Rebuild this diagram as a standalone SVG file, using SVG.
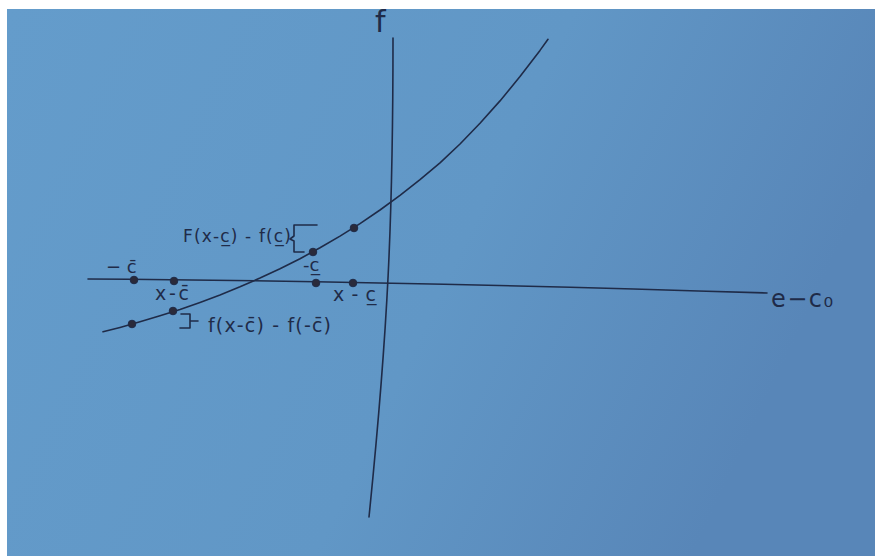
<svg xmlns="http://www.w3.org/2000/svg" width="875" height="556" viewBox="0 0 875 556">
  <defs>
    <linearGradient id="paper" x1="0" y1="0" x2="1" y2="0.3">
      <stop offset="0" stop-color="#649ccb"/>
      <stop offset="0.6" stop-color="#6197c6"/>
      <stop offset="1" stop-color="#5886b8"/>
    </linearGradient>
    <style>
      .ink { fill: none; stroke: #1f2b48; stroke-width: 1.6; stroke-linecap: round; stroke-linejoin: round; }
      .dot { fill: #2a2a3a; stroke: #1f2b48; stroke-width: 1; }
      .lbl { font-family: "DejaVu Sans", "Liberation Sans", sans-serif; fill: #1f2b48; }
    </style>
  </defs>

  <rect x="0" y="0" width="875" height="556" fill="#ffffff"/>
  <rect x="7" y="9" width="868" height="547" fill="url(#paper)"/>

  <g id="axes">
    <path class="ink" d="M88,279 Q390,281 767,293"/>
    <path class="ink" d="M393,38 C393,220 388,330 369,517"/>
    <text class="lbl" x="375" y="32" font-size="30">f</text>
    <text class="lbl" x="771" y="307" font-size="24" textLength="62" lengthAdjust="spacing">e−c₀</text>
  </g>

  <g id="curve">
    <polyline class="ink" points="103,331.8 120,327.4 140,321.8 160,315.8 180,309.4 200,302.4 220,294.9 240,286.8 260,278.1 280,268.8 300,258.7 320,247.8 340,236.1 360,223.6 380,210 400,195.4 420,179.7 440,162.8 460,144 480,123.3 500,100.9 520,76.6 540,50.4 548,39.3"/>
  </g>

  <g id="points">
    <circle class="dot" cx="134" cy="280" r="3.8"/>
    <circle class="dot" cx="174" cy="281" r="3.8"/>
    <circle class="dot" cx="316" cy="283" r="3.8"/>
    <circle class="dot" cx="353" cy="283" r="3.8"/>
    <circle class="dot" cx="132" cy="324" r="3.8"/>
    <circle class="dot" cx="173" cy="311" r="3.8"/>
    <circle class="dot" cx="313" cy="252" r="3.8"/>
    <circle class="dot" cx="354" cy="228" r="3.8"/>
  </g>

  <g id="axis-labels">
    <text class="lbl" x="106" y="273" font-size="18">− c̄</text>
    <text class="lbl" x="155" y="300" font-size="19" textLength="34" lengthAdjust="spacing">x-c̄</text>
    <text class="lbl" x="303" y="271" font-size="18">-c̲</text>
    <text class="lbl" x="333" y="301" font-size="19" textLength="43" lengthAdjust="spacing">x-c̲</text>
  </g>

  <g id="upper-gap">
    <text class="lbl" x="183" y="242" font-size="17" textLength="108" lengthAdjust="spacing">F(x-c̲) - f(c̲)</text>
    <path class="ink" d="M317,225 L294,225 L294,236 L290,239 L294,241 L294,252 L304,252"/>
  </g>

  <g id="lower-gap">
    <path class="ink" d="M181,314 L190,314 L190,328 L180,328 M190,321 L198,321"/>
    <text class="lbl" x="208" y="332" font-size="19" textLength="123" lengthAdjust="spacing">f(x-c̄) - f(-c̄)</text>
  </g>
</svg>
